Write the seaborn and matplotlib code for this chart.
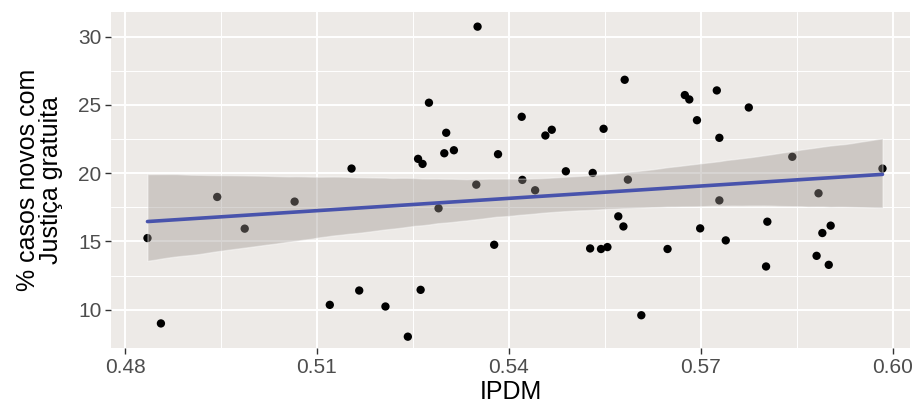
import pandas as pd
import matplotlib
matplotlib.use("Agg")
import matplotlib.pyplot as plt
import seaborn as sns
from matplotlib.collections import PolyCollection

# values
ipdm = [0.4835, 0.4856, 0.4944, 0.4987, 0.5065, 0.5154, 0.5120, 0.5166, 0.5207,
        0.5242, 0.5262, 0.5258, 0.5265, 0.5275, 0.5290, 0.5299, 0.5302, 0.5314,
        0.5349, 0.5351, 0.5377, 0.5383, 0.5420, 0.5421, 0.5441, 0.5457, 0.5467,
        0.5489, 0.5527, 0.5531, 0.5544, 0.5554, 0.5548, 0.5571, 0.5579, 0.5581,
        0.5586, 0.5607, 0.5648, 0.5675, 0.5682, 0.5694, 0.5699, 0.5725, 0.5729,
        0.5729, 0.5739, 0.5775, 0.5802, 0.5804, 0.5843, 0.5881, 0.5884, 0.5890,
        0.5900, 0.5903, 0.5984]
casos = [15.25, 9.0, 18.26, 15.94, 17.92, 20.34, 10.36, 11.41, 10.24,
         8.03, 11.46, 21.05, 20.68, 25.16, 17.43, 21.46, 22.96, 21.68,
         19.16, 30.73, 14.76, 21.39, 24.13, 19.51, 18.75, 22.76, 23.18,
         20.14, 14.49, 20.02, 14.45, 14.59, 23.25, 16.84, 16.1, 26.84,
         19.53, 9.6, 14.45, 25.72, 25.4, 23.88, 15.96, 26.06, 22.59,
         18.01, 15.08, 24.81, 13.17, 16.45, 21.2, 13.95, 18.53, 15.62,
         13.29, 16.16, 20.34]

x_ticks = [0.48, 0.51, 0.54, 0.57, 0.60]
x_labels = ["0.48", "0.51", "0.54", "0.57", "0.60"]
y_ticks = [10, 15, 20, 25, 30]

df = pd.DataFrame({"IPDM": ipdm, "casos": casos})

sns.set_theme(style="darkgrid")
plt.rcParams["font.family"] = ["Liberation Sans", "DejaVu Sans"]

fig, ax = plt.subplots(figsize=(9.13, 4.15), dpi=100)
fig.subplots_adjust(left=0.1216, right=0.9967, top=0.971, bottom=0.1614)

ax.set_facecolor("#EDEAE7")

# points first, smoother ribbon on top (like ggplot layer order)
sns.scatterplot(x="IPDM", y="casos", data=df, color="black", s=36,
                edgecolor="none", ax=ax, zorder=2)
sns.regplot(x="IPDM", y="casos", data=df, scatter=False, ax=ax,
            color="#4853AC", n_boot=2000, seed=3,
            line_kws={"linewidth": 2.6, "zorder": 4})

for coll in ax.collections:
    if isinstance(coll, PolyCollection):
        coll.set_facecolor("#9E9690")
        coll.set_alpha(0.4)
        coll.set_zorder(3)

ax.set_xlim(0.4778, 0.6027)
ax.set_ylim(7.2, 31.8)
ax.set_xticks(x_ticks)
ax.set_xticklabels(x_labels)
ax.set_yticks(y_ticks)
ax.set_xticks([0.495, 0.525, 0.555, 0.585], minor=True)
ax.set_yticks([12.5, 17.5, 22.5, 27.5], minor=True)

ax.grid(which="major", color="white", linewidth=1.4)
ax.grid(which="minor", color="white", linewidth=0.7)
ax.set_axisbelow(True)

ax.tick_params(which="major", length=4, width=1, color="#333333",
               labelsize=15, labelcolor="#4D4D4D", pad=3,
               bottom=True, left=True)
ax.tick_params(which="minor", length=0)

ax.set_xlabel("IPDM", fontsize=18, color="black", labelpad=2)
ax.set_ylabel("% casos novos com\nJustiça gratuita", fontsize=18,
              color="black", labelpad=11, linespacing=0.95)

for s in ax.spines.values():
    s.set_visible(False)

fig.savefig("out.png", dpi=100)
